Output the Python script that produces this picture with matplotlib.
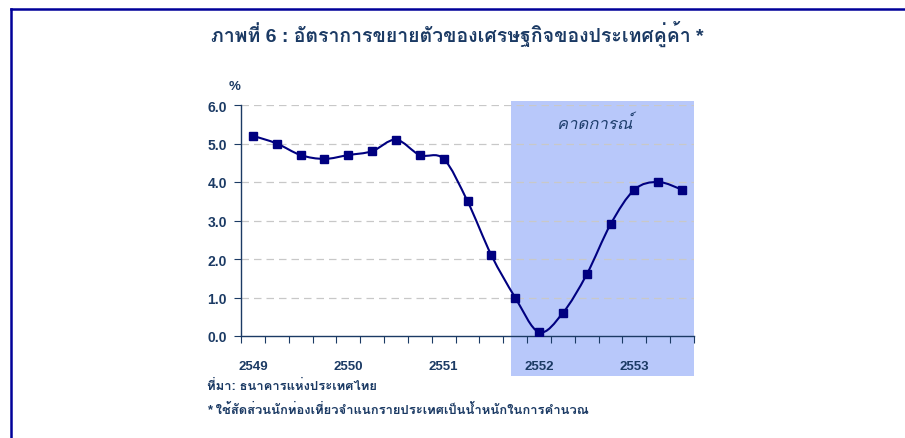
import matplotlib
matplotlib.use('Agg')
from matplotlib import pyplot as plt
from matplotlib.path import Path
from matplotlib.patches import PathPatch, Rectangle
from matplotlib.lines import Line2D
import matplotlib.transforms as mtransforms
import numpy as np

plt.rcParams['font.family'] = ['Liberation Sans', 'Loma', 'DejaVu Sans']

# data (quarterly growth, %)
growth = [5.2, 5.0, 4.7, 4.6, 4.7, 4.8, 5.1, 4.7, 4.6, 3.5, 2.1,
          1.0, 0.1, 0.6, 1.6, 2.9, 3.8, 4.0, 3.8]
years = ['2549', '2550', '2551', '2552', '2553']
year_pos = [0, 4, 8, 12, 16]
forecast_start = 10.83

title = 'ภาพที่ 6 : อัตราการขยายตัวของเศรษฐกิจของประเทศคู่ค้า *'
source = 'ที่มา: ธนาคารแห่งประเทศไทย'
note = '* ใช้สัดส่วนนักท่องเที่ยวจำแนกรายประเทศเป็นน้ำหนักในการคำนวณ'

txt = '#1b3a64'
navy = '#000080'

fig = plt.figure(figsize=(9.05, 4.39), dpi=100)
ax = fig.add_axes([241 / 905, 1 - 337 / 439, 453 / 905, 231 / 439])

x = np.arange(len(growth))
ax.set_xlim(-0.5, len(growth) - 0.5)
ax.set_ylim(0, 6)

# forecast shading (spills over the axis labels like the original)
trans = mtransforms.blended_transform_factory(ax.transData, ax.transAxes)
ax.add_patch(Rectangle((forecast_start, -0.173), len(growth) - 0.5 - forecast_start, 1.19,
                       transform=trans, facecolor='#b8c8fa', edgecolor='none',
                       clip_on=False, zorder=0))
ax.text(14.35, 5.56, 'คาดการณ์', ha='center', va='center', fontsize=12,
        style='italic', color='#1f3f6e')

# grid
for v in range(1, 7):
    ax.axhline(v, color='#c8c8c8', lw=0.9, dashes=(6, 4), zorder=1)

# smoothed line (Excel style bezier)
pts = np.column_stack([x, growth])
verts = [pts[0]]
codes = [Path.MOVETO]
for i in range(len(pts) - 1):
    p0 = pts[max(i - 1, 0)]
    p1 = pts[i]
    p2 = pts[i + 1]
    p3 = pts[min(i + 2, len(pts) - 1)]
    verts += [p1 + (p2 - p0) / 6, p2 - (p3 - p1) / 6, p2]
    codes += [Path.CURVE4] * 3
ax.add_patch(PathPatch(Path(verts, codes), facecolor='none', edgecolor=navy,
                       lw=1.5, zorder=3))
ax.plot(x, growth, linestyle='none', marker='s', markersize=6, color=navy, zorder=4)

# axes styling
for s in ['top', 'right']:
    ax.spines[s].set_visible(False)
for s in ['left', 'bottom']:
    ax.spines[s].set_color(txt)
    ax.spines[s].set_linewidth(1.0)
ax.set_yticks(range(7))
ax.set_yticklabels(['%.1f' % v for v in range(7)], fontsize=10, fontweight='bold', color=txt)
ax.tick_params(axis='y', length=5, color=txt, pad=5)
ax.set_xticks(np.arange(-0.5, len(growth)))
ax.set_xticklabels([])
ax.tick_params(axis='x', which='major', length=5, color=txt)
ax.set_xticks(year_pos, minor=True)
ax.set_xticklabels(years, minor=True, fontsize=9.5, fontweight='bold', color=txt)
ax.tick_params(axis='x', which='minor', length=0, pad=17)
ax.set_facecolor('none')

fig.text(235 / 905, 1 - 87 / 439, '%', ha='center', va='center', fontsize=9.5,
         fontweight='bold', color=txt)
fig.text(457 / 905, 1 - 34 / 439, title, ha='center', va='center', fontsize=14,
         fontweight='bold', color=txt)
fig.text(207 / 905, 1 - 386 / 439, source, ha='left', va='center', fontsize=9.4,
         fontweight='bold', color=txt)
fig.text(207 / 905, 1 - 410 / 439, note, ha='left', va='center', fontsize=9.4,
         fontweight='bold', color=txt)

# frame on top and left
fig.add_artist(Line2D([11 / 905, 1], [1 - 10 / 439] * 2, color='#000099', lw=1.8))
fig.add_artist(Line2D([11 / 905] * 2, [0, 1 - 10 / 439], color='#000099', lw=1.8))

fig.savefig('out.png', dpi=100)
